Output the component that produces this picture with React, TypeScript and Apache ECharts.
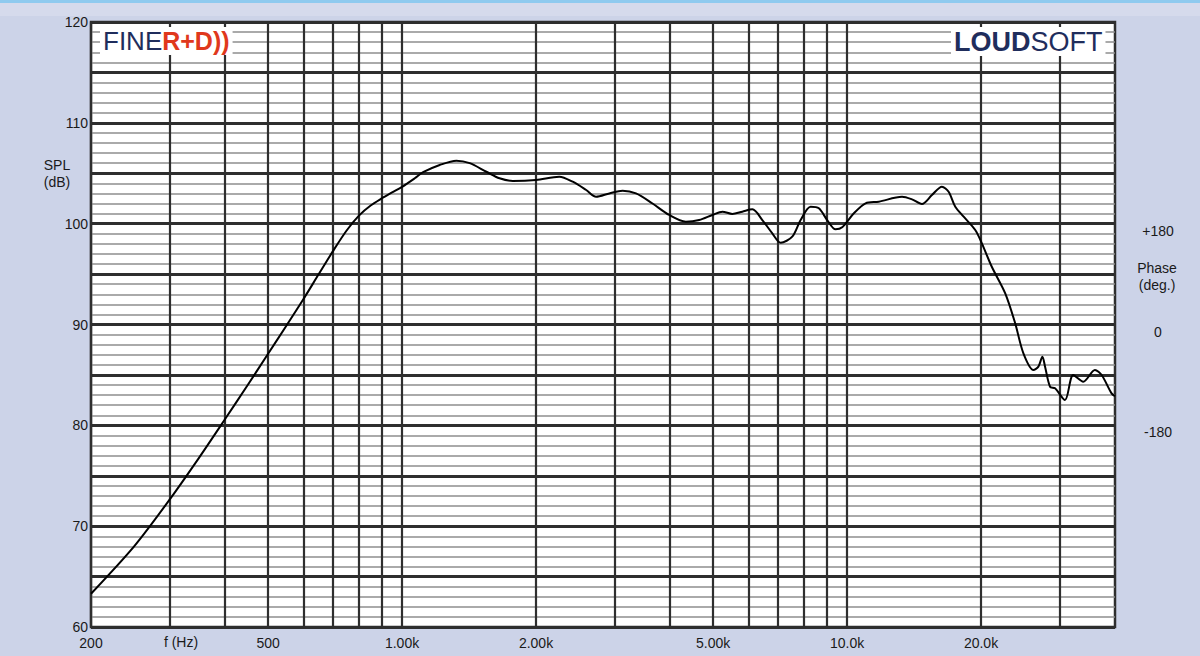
import React, { useEffect, useRef } from "react";
import * as echarts from "echarts";

// Frequency response data (Hz, dB SPL)
const FREQ = [200, 250, 300, 350, 400, 450, 500, 550, 600, 650, 700, 750, 800, 850, 900, 950, 1000, 1068, 1115, 1215, 1325, 1419, 1547, 1656, 1774, 2000, 2256, 2418, 2593, 2729, 2923, 3130, 3355, 3654, 3985, 4342, 4652, 4982, 5246, 5523, 5815, 6127, 6450, 6792, 7093, 7530, 7864, 8281, 8642, 9022, 9421, 9750, 10357, 11004, 11783, 13288, 13993, 14731, 15513, 16337, 16911, 17505, 18280, 19409, 20085, 21144, 22667, 23864, 24903, 26225, 26911, 27473, 27855, 28583, 29329, 30880, 32230, 33946, 36060, 37330, 39300, 40000];
const SPL = [63.3, 68.0, 72.6, 76.8, 80.6, 84.0, 87.1, 89.9, 92.5, 95.0, 97.3, 99.3, 100.8, 101.8, 102.5, 103.1, 103.65, 104.5, 105.1, 105.82, 106.25, 106.0, 105.15, 104.5, 104.23, 104.33, 104.66, 104.16, 103.34, 102.67, 103.0, 103.27, 103.0, 102.0, 100.86, 100.2, 100.36, 100.86, 101.19, 100.96, 101.19, 101.42, 100.36, 99.04, 98.11, 98.71, 100.36, 101.68, 101.52, 100.36, 99.44, 99.64, 101.03, 102.02, 102.18, 102.67, 102.41, 101.95, 102.84, 103.67, 103.17, 101.68, 100.69, 99.37, 98.05, 95.73, 93.09, 90.12, 87.14, 85.49, 85.82, 86.8, 85.82, 83.83, 83.67, 82.51, 84.99, 84.33, 85.49, 84.99, 83.17, 82.9];

// Axes
const X_MIN = 200;
const X_MAX = 40000;
const X_GRID = [300, 400, 500, 600, 700, 800, 900, 1000, 2000, 3000, 4000, 5000, 6000, 7000, 8000, 9000, 10000, 20000, 30000];
const X_TICKS = [200, 500, 1000, 2000, 5000, 10000, 20000];
const X_TICK_LABELS = ["200", "500", "1.00k", "2.00k", "5.00k", "10.0k", "20.0k"];
const Y_MIN = 60;
const Y_MAX = 120;
const PHASE_MIN = -540;
const PHASE_MAX = 540;
const PHASE_TICKS = [-180, 0, 180];
const PHASE_LABELS = ["-180", "0", "+180"];

const FONT = "'Liberation Sans', Arial, Helvetica, sans-serif";

export default function App() {
  const ref = useRef<HTMLDivElement>(null);
  useEffect(() => {
    if (!ref.current) return;
    const chart = echarts.init(ref.current, null, { renderer: "svg" });

    const allX = Array.from(new Set([...X_TICKS, ...X_GRID])).sort((a, b) => a - b);
    const vData = allX.map((f) => {
      const i = X_TICKS.indexOf(f);
      return {
        xAxis: f,
        label: i >= 0 ? { show: true, formatter: X_TICK_LABELS[i] } : { show: false },
      };
    });

    const option: any = {
      animation: false,
      backgroundColor: "#ccd3e8",
      grid: {
        left: 91,
        top: 22,
        width: 1024,
        height: 605,
        show: true,
        backgroundColor: "#ffffff",
        borderColor: "#2e2e2e",
        borderWidth: 2.5,
      },
      xAxis: {
        type: "log",
        logBase: 10,
        min: X_MIN,
        max: X_MAX,
        axisLine: { show: false },
        axisTick: { show: false },
        axisLabel: { show: false },
        splitLine: { show: false },
      },
      yAxis: [
        {
          type: "value",
          min: Y_MIN,
          max: Y_MAX,
          interval: 1,
          axisLine: { show: false },
          axisTick: { show: false },
          axisLabel: { show: false },
          splitLine: { show: true, lineStyle: { color: "#8e8e8e", width: 1.6 } },
        },
        {
          type: "value",
          min: Y_MIN,
          max: Y_MAX,
          interval: 5,
          position: "left",
          axisLine: { show: false },
          axisTick: { show: false },
          axisLabel: {
            show: true,
            margin: 3,
            color: "#1a1a1a",
            fontFamily: FONT,
            fontSize: 14,
            lineHeight: 13,
            formatter: (v: number) => (v % 10 === 0 ? String(v) : ""),
          },
          splitLine: { show: true, lineStyle: { color: "#2e2e2e", width: 3 } },
        },
        {
          type: "value",
          min: PHASE_MIN,
          max: PHASE_MAX,
          interval: 180,
          position: "right",
          axisLine: { show: false },
          axisTick: { show: false },
          splitLine: { show: false },
          axisLabel: {
            show: true,
            margin: 43,
            align: "center",
            verticalAlign: "top",
            color: "#1a1a1a",
            fontFamily: FONT,
            fontSize: 14,
            formatter: (v: number) => {
              const i = PHASE_TICKS.indexOf(v);
              return i >= 0 ? PHASE_LABELS[i] : "";
            },
          },
        },
      ],
      series: [
        {
          type: "line",
          data: [],
          yAxisIndex: 1,
          z: 2,
          silent: true,
          markLine: {
            silent: true,
            symbol: ["none", "none"],
            lineStyle: { color: "#2e2e2e", width: 2.2, type: "solid" },
            label: {
              position: "start",
              distance: 9,
              color: "#1a1a1a",
              fontFamily: FONT,
              fontSize: 14,
              lineHeight: 13,
            },
            emphasis: { disabled: true },
            data: vData,
          },
        },
        {
          type: "line",
          yAxisIndex: 1,
          z: 5,
          data: FREQ.map((f, i) => [f, SPL[i]]),
          showSymbol: false,
          smooth: 0.3,
          lineStyle: { color: "#000000", width: 2 },
          silent: true,
        },
      ],
      graphic: [
        { type: "rect", left: 0, top: 0, shape: { width: 1200, height: 3 }, style: { fill: "#8fcaef" }, silent: true },
        { type: "rect", left: 0, top: 3, shape: { width: 1200, height: 13 }, style: { fill: "#d5daec" }, silent: true },
        {
          type: "text",
          x: 57,
          y: 156,
          style: {
            text: "SPL\n(dB)",
            font: `14px ${FONT}`,
            fill: "#1a1a1a",
            align: "center",
            lineHeight: 17,
          },
          silent: true,
        },
        {
          type: "text",
          x: 181,
          y: 642,
          style: {
            text: "f (Hz)",
            font: `14px ${FONT}`,
            fill: "#1a1a1a",
            align: "center",
            verticalAlign: "middle",
          },
          silent: true,
        },
        {
          type: "text",
          x: 1157,
          y: 259,
          style: {
            text: "Phase\n(deg.)",
            font: `14px ${FONT}`,
            fill: "#1a1a1a",
            align: "center",
            lineHeight: 17,
          },
          silent: true,
        },
        {
          type: "text",
          x: 100,
          y: 27,
          z: 10,
          style: {
            text: "{a|FINE}{b|R+D))}",
            backgroundColor: "#ffffff",
            padding: [1, 3, 1, 3],
            rich: {
              a: { fontSize: 26, fontFamily: FONT, color: "#1f2d5c", fill: "#1f2d5c" },
              b: {
                fontSize: 25,
                fontWeight: "bold",
                fontFamily: "'Liberation Sans Narrow', 'Liberation Sans', Arial, sans-serif",
                color: "#e0381c",
                fill: "#e0381c",
              },
            },
          },
          silent: true,
        },
        {
          type: "text",
          x: 951,
          y: 27,
          z: 10,
          style: {
            text: "{a|LOUD}{b|SOFT}",
            backgroundColor: "#ffffff",
            padding: [1, 3, 1, 3],
            rich: {
              a: { fontSize: 27, fontWeight: "bold", fontFamily: FONT, color: "#1f2d5c", fill: "#1f2d5c" },
              b: { fontSize: 27, fontFamily: FONT, color: "#1f2d5c", fill: "#1f2d5c" },
            },
          },
          silent: true,
        },
      ],
    };

    chart.setOption(option);
    return () => chart.dispose();
  }, []);

  return (
    <div
      ref={ref}
      style={{ position: "fixed", left: 0, top: 0, width: 1200, height: 656 }}
    />
  );
}
